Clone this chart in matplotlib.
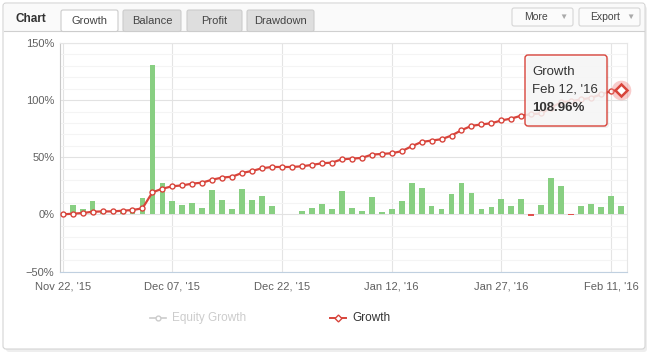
import numpy as np
import pandas as pd
import matplotlib
matplotlib.use("Agg")
import matplotlib.pyplot as plt
from matplotlib.patches import FancyBboxPatch
from matplotlib.lines import Line2D
from matplotlib.transforms import IdentityTransform

plt.rcParams['font.family'] = ['Liberation Sans', 'DejaVu Sans']

# trading days shown on the chart (ordinal axis)
holidays = ['2015-12-24', '2015-12-25', '2015-12-31', '2016-01-01']
days = pd.bdate_range('2015-11-23', '2016-02-12')
days = days[~days.isin(pd.to_datetime(holidays))]
dates = [pd.Timestamp('2015-11-22')] + list(days)

# cumulative growth, %
growth = [0, 0.6, 1.2, 2.3, 2.6, 2.6, 3.2, 3.8, 5.3, 19.3,
          22.5, 24.6, 25.4, 26.9, 27.8, 30.4, 32.2, 33.0, 36.3, 38.0,
          40.4, 41.5, 41.5, 41.5, 42.1, 43.3, 44.7, 45.3, 48.2, 48.8,
          49.4, 52.3, 52.9, 53.5, 55.3, 59.6, 63.4, 64.6, 65.8, 69.0,
          73.7, 77.5, 78.7, 79.8, 82.2, 83.9, 86.4, 87.7, 88.3, 93.5,
          98.2, 99.1, 100.6, 102.0, 105.0, 107.9, 108.96]

# daily gain bars, %
daily = [0, 8.5, 5, 12, 2.5, 0, 2.6, 3.5, 14.6, 131,
         27.8, 11.4, 8.5, 10.2, 5.9, 21.7, 12.3, 5, 22.5, 12.3,
         16.4, 7.6, 0.6, 0.6, 2.9, 5.8, 8.8, 4.4, 20.2, 5.3,
         2.7, 15.5, 2.3, 5, 11.4, 27.8, 23.4, 7.6, 5, 18.1,
         27.8, 19, 5, 6.7, 13.7, 7.6, 13.7, -1.2, 8.2, 32.2,
         25.2, -0.8, 7.6, 9.4, 6.7, 16.4, 7]

tick_dates = ['2015-11-22', '2015-12-07', '2015-12-22', '2016-01-12', '2016-01-27', '2016-02-11']
y_ticks = [-50, 0, 50, 100, 150]
tabs = ['Growth', 'Balance', 'Profit', 'Drawdown']

W, H = 649, 357
RED = '#d8443b'
GREEN = '#88cf82'

fig = plt.figure(figsize=(W / 100, H / 100), dpi=100)
fig.patch.set_facecolor('white')


def fx(x):
    return x / W


def fy(y):
    return 1 - y / H


def box(x0, y0, x1, y1, fc, ec, r=0, lw=0.8, z=1, alpha=1):
    p = FancyBboxPatch((x0, H - y1), x1 - x0, y1 - y0,
                       boxstyle=f"round,pad=0,rounding_size={r}" if r else "square,pad=0",
                       fc=fc, ec=ec, lw=lw, transform=IdentityTransform(), zorder=z, alpha=alpha)
    fig.add_artist(p)
    return p


# outer panel + header
box(6, 6, 647, 352, '#eeeeee', 'none', r=3, lw=0, z=0.1)
box(3, 3, 645, 349, 'white', '#d4d4d4', r=3, z=0.2)
box(4, 4, 644, 31, '#fafafa', 'none', lw=0, z=0.3)
fig.add_artist(Line2D([4, 644], [H - 31, H - 31], color='#d0d0d0', lw=0.8,
                      transform=IdentityTransform(), zorder=0.4))
fig.text(fx(16), fy(19), 'Chart', fontsize=8.5, fontweight='bold', color='#333333',
         va='center', ha='left', zorder=2)

tab_x = [(61, 118), (123, 181), (187, 242), (247, 314)]
for name, (a, b) in zip(tabs, tab_x):
    active = name == 'Growth'
    box(a, 10, b, 31.5, 'white' if active else '#dedede', '#cccccc', r=2, z=0.5)
    fig.text(fx((a + b) / 2), fy(21), name, fontsize=8, color='#444444',
             ha='center', va='center', zorder=2)

for label, (a, b) in zip(['More', 'Export'], [(512, 573), (579, 640)]):
    box(a, 8, b, 26, '#fbfbfb', '#d6d6d6', r=2, z=0.5)
    fig.text(fx(a + 24 if label == 'More' else a + 26), fy(17.5), label, fontsize=7.5,
             color='#444444', ha='center', va='center', zorder=2)
    fig.text(fx(b - 10), fy(17.5), '\u25bc', fontsize=6, color='#aaaaaa',
             ha='center', va='center', zorder=2)

# plot area
ax = fig.add_axes([fx(60), fy(271.5), fx(627) - fx(60), fy(43) - fy(271.5)])
ax.set_zorder(1)
ax.set_facecolor('white')
x = np.arange(len(growth))
ax.set_xlim(-0.27, 56.6)
ax.set_ylim(-50, 150)

ax.set_yticks(y_ticks)
ax.set_yticklabels([f'{v}%'.replace('-', '\u2212') for v in y_ticks])
ax.set_yticks(np.arange(-50, 151, 10), minor=True)
ax.grid(axis='y', which='minor', color='#f4f4f4', lw=0.8, zorder=0)
ax.grid(axis='y', which='major', color='#e2e2e2', lw=0.8, zorder=0)

tick_pos = [dates.index(pd.Timestamp(d)) for d in tick_dates]
ax.set_xticks(tick_pos)
ax.set_xticklabels([pd.Timestamp(d).strftime("%b %d, '%y") for d in tick_dates])
ax.grid(axis='x', which='major', color='#e4e4e4', lw=0.8, zorder=0)
ax.set_axisbelow(True)

ax.tick_params(axis='both', which='both', length=0, labelsize=8, labelcolor='#606060')
ax.tick_params(axis='y', pad=4)
ax.tick_params(axis='x', pad=7)
for s in ['top', 'right']:
    ax.spines[s].set_color('#e6e6e6')
ax.spines['left'].set_color('#c8c8c8')
ax.spines['bottom'].set_color('#c0d0e0')
for s in ax.spines.values():
    s.set_linewidth(0.8)

bar_colors = [GREEN if v >= 0 else '#e05050' for v in daily]
ax.bar(x, daily, width=0.58, color=bar_colors, zorder=2)

ax.plot(x, growth, color=RED, lw=1.6, marker='o', ms=3.6, mfc='white', mec=RED,
        mew=1.0, zorder=3)

# hovered point
ax.scatter([x[-1]], [growth[-1]], s=200, color='#f08080', alpha=0.4, lw=0, zorder=4,
           clip_on=False)
ax.plot([x[-1]], [growth[-1]], marker='D', ms=6.3, mfc='white', mec=RED, mew=1.8,
        zorder=5, clip_on=False)

# tooltip
box(527, 57, 609, 128, '#000000', 'none', r=3, lw=0, z=5, alpha=0.06)
box(525, 55, 607, 126, '#f8f8f8', 'none', r=3, lw=0, z=6, alpha=0.85)
box(525, 55, 607, 126, 'none', RED, r=3, lw=1, z=6)
last = dates[-1].strftime("%b %d, '%y")
fig.text(fx(532), fy(72), 'Growth', fontsize=9.5, color='#333333', va='center', zorder=7)
fig.text(fx(532), fy(90), last, fontsize=9.5, color='#333333', va='center', zorder=7)
fig.text(fx(532), fy(108), f'{growth[-1]:.2f}%', fontsize=9.5, fontweight='bold',
         color='#333333', va='center', zorder=7)

# legend
fig.add_artist(Line2D([150, 166], [H - 318, H - 318], color='#cccccc', lw=1.2,
                      transform=IdentityTransform(), zorder=2))
fig.add_artist(Line2D([158], [H - 318], color='#cccccc', marker='o', ms=3.5, mfc='white',
                      mec='#cccccc', transform=IdentityTransform(), zorder=2))
fig.text(fx(172), fy(318), 'Equity Growth', fontsize=8.5, color='#cccccc', va='center', zorder=2)
fig.add_artist(Line2D([330, 346], [H - 318, H - 318], color=RED, lw=1.4,
                      transform=IdentityTransform(), zorder=2))
fig.add_artist(Line2D([338], [H - 318], color=RED, marker='D', ms=3.5, mfc='white',
                      mec=RED, transform=IdentityTransform(), zorder=2))
fig.text(fx(352), fy(318), 'Growth', fontsize=8.5, color='#333333', va='center', zorder=2)

fig.savefig('out.png', dpi=100)
